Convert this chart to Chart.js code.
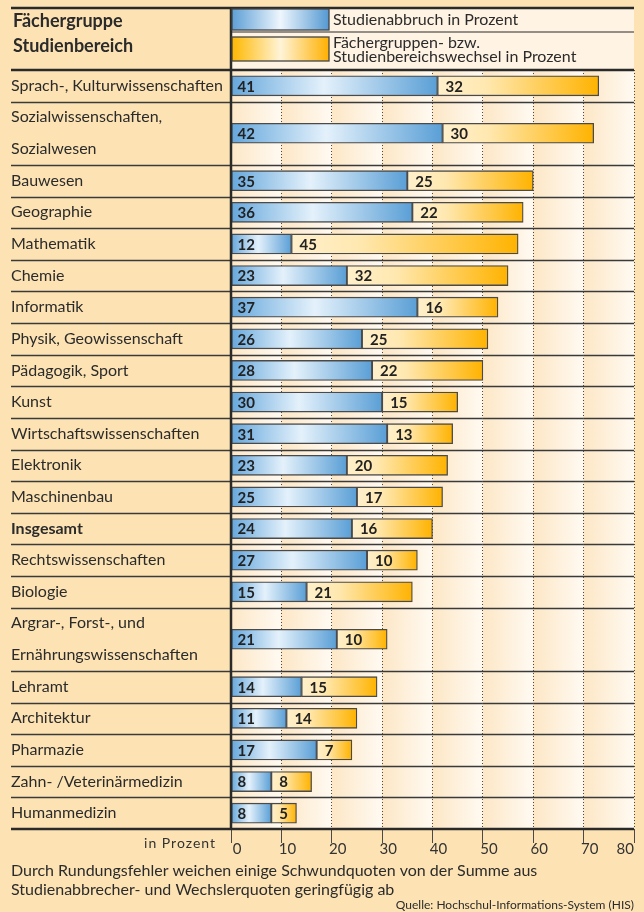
<!DOCTYPE html>
<html>
<head>
<meta charset="utf-8">
<script src="https://cdn.jsdelivr.net/npm/chart.js@4.4.0/dist/chart.umd.min.js"></script>
<style>
  html, body { margin: 0; padding: 0; background: #fde3b4; }
  #wrap { width: 644px; height: 912px; }
</style>
</head>
<body>
<div id="wrap"><canvas id="schwundChart" width="644" height="912"></canvas></div>
<script>
// rows of the table (a label with two lines takes two rows)
var categories = [
  ['Sprach-, Kulturwissenschaften'],
  ['Sozialwissenschaften,', 'Sozialwesen'],
  ['Bauwesen'],
  ['Geographie'],
  ['Mathematik'],
  ['Chemie'],
  ['Informatik'],
  ['Physik, Geowissenschaft'],
  ['Pädagogik, Sport'],
  ['Kunst'],
  ['Wirtschaftswissenschaften'],
  ['Elektronik'],
  ['Maschinenbau'],
  ['Insgesamt'],
  ['Rechtswissenschaften'],
  ['Biologie'],
  ['Argrar-, Forst-, und', 'Ernährungswissenschaften'],
  ['Lehramt'],
  ['Architektur'],
  ['Pharmazie'],
  ['Zahn- /Veterinärmedizin'],
  ['Humanmedizin']
];
var abbruch = [41, 42, 35, 36, 12, 23, 37, 26, 28, 30, 31, 23, 25, 24, 27, 15, 21, 14, 11, 17, 8, 8];
var wechsel = [32, 30, 25, 22, 45, 32, 16, 25, 22, 15, 13, 20, 17, 16, 10, 21, 10, 15, 14, 7, 8, 5];
var xTicks = [0, 10, 20, 30, 40, 50, 60, 70, 80];
var totalLabel = 'Insgesamt';

var FONT = 'Lato, "Open Sans", sans-serif';
var INK = '#2b2b2b';

// row centres and borders on the y scale
var rowCenters = [], rowEdges = [0], pos = 0;
categories.forEach(function (lines) {
  rowCenters.push(pos + lines.length / 2);
  pos += lines.length;
  rowEdges.push(pos);
});
var rowCount = pos;

function barGradient(ctx, kind) {
  var chart = ctx.chart;
  var xs = chart.scales.x;
  if (!xs || !chart.chartArea) return kind === 'blue' ? '#7ab7e6' : '#ffc53d';
  var i = ctx.dataIndex;
  var start = kind === 'blue' ? 0 : abbruch[i];
  var end = kind === 'blue' ? abbruch[i] : abbruch[i] + wechsel[i];
  var x0 = xs.getPixelForValue(start), x1 = xs.getPixelForValue(end);
  if (x1 - x0 < 2) x1 = x0 + 2;
  var g = chart.ctx.createLinearGradient(x0, 0, x1, 0);
  if (kind === 'blue') {
    g.addColorStop(0, '#65a7dc');
    g.addColorStop(0.45, '#e4f1fb');
    g.addColorStop(1, '#5a9fd6');
  } else {
    g.addColorStop(0, '#fff0cc');
    g.addColorStop(0.3, '#ffe8b0');
    g.addColorStop(1, '#ffb300');
  }
  return g;
}

function boxGradient(c, x0, x1, kind) {
  var g = c.createLinearGradient(x0, 0, x1, 0);
  if (kind === 'blue') {
    g.addColorStop(0, '#5d9fd6');
    g.addColorStop(0.5, '#eef6fd');
    g.addColorStop(1, '#5499d2');
  } else {
    g.addColorStop(0, '#ffb800');
    g.addColorStop(0.5, '#fff4d8');
    g.addColorStop(1, '#ffb000');
  }
  return g;
}

var tablePlugin = {
  id: 'tablePlugin',
  beforeDraw: function (chart) {
    var c = chart.ctx, a = chart.chartArea, xs = chart.scales.x, ys = chart.scales.y;
    c.save();
    c.fillStyle = '#fde3b4';
    c.fillRect(0, 0, chart.width, chart.height);
    // legend area
    c.fillStyle = '#fff3e3';
    c.fillRect(a.left, 8, a.right - a.left, 62);
    // chart columns, each fading from peach to white
    for (var k = 0; k < xTicks.length - 1; k++) {
      var p0 = xs.getPixelForValue(xTicks[k]), p1 = xs.getPixelForValue(xTicks[k + 1]);
      var g = c.createLinearGradient(p0, 0, p1, 0);
      g.addColorStop(0, '#fde7c6');
      g.addColorStop(1, '#fffaf2');
      c.fillStyle = g;
      c.fillRect(p0, a.top, p1 - p0, a.bottom - a.top);
    }
    // row separators
    c.strokeStyle = '#3a3a3a';
    c.lineWidth = 1.3;
    for (var r = 1; r < rowEdges.length - 1; r++) {
      var y = Math.round(ys.getPixelForValue(rowEdges[r])) + 0.5;
      c.beginPath();
      c.moveTo(11, y);
      c.lineTo(a.right, y);
      c.stroke();
    }
    c.restore();
  },
  afterDraw: function (chart) {
    var c = chart.ctx, a = chart.chartArea, xs = chart.scales.x;
    c.save();
    // header lines
    c.strokeStyle = '#2a2a2a';
    c.lineWidth = 2.5;
    c.beginPath(); c.moveTo(11, 8); c.lineTo(a.right, 8); c.stroke();
    c.beginPath(); c.moveTo(11, a.top); c.lineTo(a.right, a.top); c.stroke();
    c.lineWidth = 1.2;
    c.beginPath(); c.moveTo(a.left, 32); c.lineTo(a.right, 32); c.stroke();
    // vertical axis line through header and body
    c.lineWidth = 2.5;
    c.beginPath(); c.moveTo(a.left, 8); c.lineTo(a.left, a.bottom); c.stroke();
    // bottom axis line
    c.beginPath(); c.moveTo(11, a.bottom); c.lineTo(a.right, a.bottom); c.stroke();

    // header title
    c.fillStyle = INK;
    c.textBaseline = 'middle';
    c.textAlign = 'left';
    c.font = 'bold 18px ' + FONT;
    c.fillText('Fächergruppe', 13, 21);
    c.fillText('Studienbereich', 13, 46);

    // legend from the datasets
    var ds = chart.data.datasets;
    var bx0 = a.left + 1, bx1 = a.left + 98;
    c.lineWidth = 1.3;
    c.strokeStyle = '#444';
    c.fillStyle = boxGradient(c, bx0, bx1, 'blue');
    c.fillRect(bx0, 9, bx1 - bx0, 21);
    c.strokeRect(bx0, 9, bx1 - bx0, 21);
    c.fillStyle = boxGradient(c, bx0, bx1, 'orange');
    c.fillRect(bx0, 37, bx1 - bx0, 24);
    c.strokeRect(bx0, 37, bx1 - bx0, 24);
    c.fillStyle = INK;
    c.font = '16px ' + FONT;
    c.fillText(ds[0].label, bx1 + 4, 20);
    var parts = ds[1].label.split('\n');
    c.fillText(parts[0], bx1 + 4, 43);
    c.fillText(parts[1], bx1 + 4, 57);

    // value labels inside the bars
    c.font = 'bold 15px ' + FONT;
    c.fillStyle = '#222';
    ds.forEach(function (d, di) {
      chart.getDatasetMeta(di).data.forEach(function (el, i) {
        var left = Math.min(el.base, el.x);
        c.fillText(String(d.data[i].x), left + (di === 0 ? 6 : 8), el.y + 1);
      });
    });

    // x tick labels
    c.font = '15px ' + FONT;
    c.fillStyle = '#333';
    xs.ticks.forEach(function (t, i) {
      var px = xs.getPixelForValue(t.value);
      if (i === xs.ticks.length - 1) {
        c.textAlign = 'right';
        c.fillText(String(t.value), px, 849);
      } else {
        c.textAlign = 'center';
        c.fillText(String(t.value), px + 6, 849);
      }
    });
    c.textAlign = 'right';
    c.font = '14px ' + FONT;
    c.letterSpacing = '1px';
    c.fillText('in Prozent', 216, 843);
    c.letterSpacing = '0px';

    // footnote and source
    c.textAlign = 'left';
    c.fillStyle = INK;
    c.font = '16px ' + FONT;
    c.fillText('Durch Rundungsfehler weichen einige Schwundquoten von der Summe aus', 11, 871);
    c.fillText('Studienabbrecher- und Wechslerquoten geringfügig ab', 11, 890);
    c.textAlign = 'right';
    c.font = '12px ' + FONT;
    c.fillText('Quelle: Hochschul-Informations-System (HIS)', 634, 905);
    c.restore();
  }
};

var ctx = document.getElementById('schwundChart').getContext('2d');
var schwundChart = new Chart(ctx, {
  type: 'bar',
  data: {
    datasets: [
      {
        label: 'Studienabbruch in Prozent',
        data: abbruch.map(function (v, i) { return { x: v, y: rowCenters[i] }; }),
        backgroundColor: function (c) { return barGradient(c, 'blue'); },
        borderColor: '#4a4a4a',
        borderWidth: 1.3,
        borderSkipped: false,
        barThickness: 20
      },
      {
        label: 'Fächergruppen- bzw.\nStudienbereichswechsel in Prozent',
        data: wechsel.map(function (v, i) { return { x: v, y: rowCenters[i] }; }),
        backgroundColor: function (c) { return barGradient(c, 'orange'); },
        borderColor: '#4a4a4a',
        borderWidth: 1.3,
        borderSkipped: false,
        barThickness: 20
      }
    ]
  },
  options: {
    indexAxis: 'y',
    responsive: false,
    animation: false,
    layout: { padding: { left: 11, top: 70, right: 10, bottom: 0 } },
    scales: {
      x: {
        type: 'linear',
        stacked: true,
        min: 0,
        max: 80,
        afterBuildTicks: function (scale) {
          scale.ticks = xTicks.map(function (v) { return { value: v }; });
        },
        afterFit: function (scale) { scale.height = 83; },
        ticks: { display: false },
        grid: { color: '#4a4a4a', lineWidth: 1, drawTicks: true, tickLength: 14 },
        border: { display: false, dash: [1, 2] }
      },
      y: {
        type: 'linear',
        stacked: true,
        reverse: true,
        offset: false,
        min: 0,
        max: rowCount,
        afterBuildTicks: function (scale) {
          scale.ticks = rowCenters.map(function (v) { return { value: v }; });
        },
        afterFit: function (scale) { scale.width = 220; },
        ticks: {
          autoSkip: false,
          crossAlign: 'far',
          padding: 0,
          color: INK,
          font: function (c) {
            var isTotal = c.index !== undefined && categories[c.index] && categories[c.index][0] === totalLabel;
            return { family: FONT, size: 16, lineHeight: 2.0, weight: isTotal ? 'bold' : 'normal' };
          },
          callback: function (value) {
            var i = rowCenters.indexOf(value);
            return i >= 0 ? categories[i] : '';
          }
        },
        grid: { display: false },
        border: { display: false }
      }
    },
    plugins: {
      legend: { display: false },
      tooltip: { enabled: false }
    }
  },
  plugins: [tablePlugin]
});
</script>
</body>
</html>
